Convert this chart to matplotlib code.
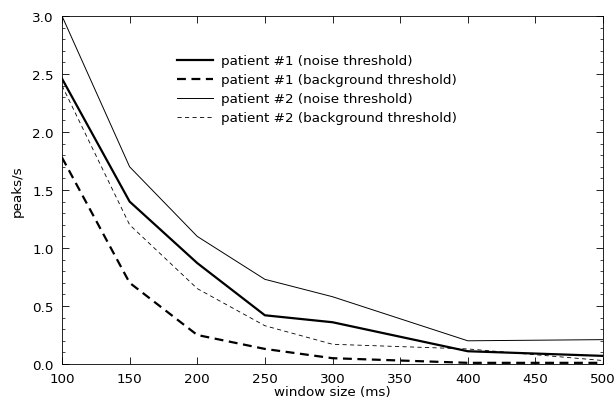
import matplotlib
matplotlib.use("Agg")
import matplotlib.pyplot as plt
from matplotlib.ticker import MultipleLocator, FormatStrFormatter

plt.rcParams['font.family'] = ['DejaVu Sans']

window = [100, 150, 200, 250, 300, 400, 500]
p1_noise = [2.46, 1.40, 0.87, 0.42, 0.36, 0.11, 0.07]
p1_bg = [1.78, 0.70, 0.25, 0.13, 0.05, 0.01, 0.01]
p2_noise = [3.00, 1.70, 1.10, 0.73, 0.58, 0.20, 0.21]
p2_bg = [2.40, 1.20, 0.65, 0.33, 0.17, 0.13, 0.03]

labels = ["patient #1 (noise threshold)",
          "patient #1 (background threshold)",
          "patient #2 (noise threshold)",
          "patient #2 (background threshold)"]

fig = plt.figure(figsize=(6.16, 4.06), dpi=100)
ax = fig.add_axes([62/616, 1-365/406, (603-62)/616, (365-17)/406])

ax.plot(window, p1_noise, color='black', lw=1.6, ls='-', label=labels[0])
ax.plot(window, p1_bg, color='black', lw=1.6, ls=(0, (4, 2.5)), label=labels[1])
ax.plot(window, p2_noise, color='black', lw=0.7, ls='-', label=labels[2])
ax.plot(window, p2_bg, color='black', lw=0.6, ls=(0, (5, 4)), label=labels[3])

ax.set_xlim(100, 500)
ax.set_ylim(0, 3.0)
ax.xaxis.set_major_locator(MultipleLocator(50))
ax.yaxis.set_major_locator(MultipleLocator(0.5))
ax.yaxis.set_minor_locator(MultipleLocator(0.1))
ax.yaxis.set_major_formatter(FormatStrFormatter('%.1f'))
ax.tick_params(which='both', direction='in', top=True, right=True, labelsize=9.7)
ax.tick_params(which='major', length=5, width=0.6, pad=6)
ax.tick_params(which='minor', length=2.5, width=0.5)
for s in ax.spines.values():
    s.set_linewidth(0.6)

ax.set_xlabel("window size (ms)", fontsize=9.7, labelpad=0)
ax.set_ylabel("peaks/s", fontsize=9.7, labelpad=6)

ax.legend(loc='upper left', bbox_to_anchor=(0.19, 0.925), frameon=False,
          fontsize=9.7, handlelength=2.7, handletextpad=0.6, labelspacing=0.45)

fig.savefig("out.png", dpi=100)
